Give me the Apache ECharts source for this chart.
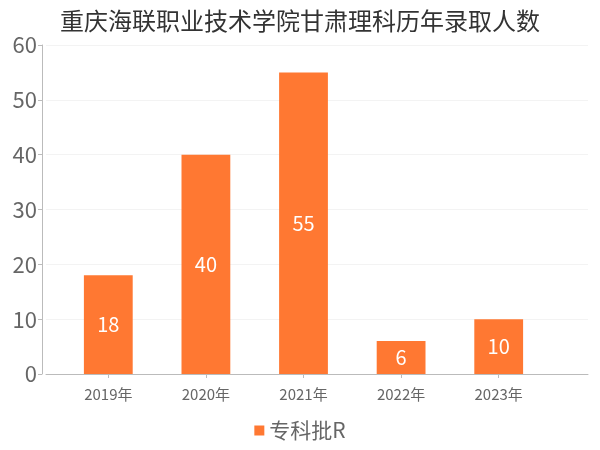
<!DOCTYPE html>
<html><head><meta charset="utf-8">
<script src="https://cdn.jsdelivr.net/npm/echarts@6/dist/echarts.min.js"></script>
<style>html,body{margin:0;padding:0;background:#fff}#c{width:600px;height:450px}</style>
</head><body><div id="c"></div>
<script>
const titleText = '重庆海联职业技术学院甘肃理科历年录取人数';
const categories = ['2019年','2020年','2021年','2022年','2023年'];
const seriesName = '专科批R';
const values = [18, 40, 55, 6, 10];
const yTicks = [0, 10, 20, 30, 40, 50, 60];

const font = '"Noto Sans CJK SC", "Noto Sans", sans-serif';
const chart = echarts.init(document.getElementById('c'));
chart.setOption({
  animation: false,
  title: { text: titleText, left: 'center', top: 4,
    textStyle: { fontFamily: font, fontSize: 24, fontWeight: 'normal', color: '#333' } },
  legend: { bottom: 4, left: 'center', itemWidth: 10, itemHeight: 10, icon: 'rect',
    textStyle: { fontFamily: font, fontSize: 21, color: '#666' }, data: [seriesName] },
  grid: [
    { left: 46, right: 12, top: 45, bottom: 76 },
    { left: 59.5, right: 52.5, top: 45, bottom: 76 }
  ],
  xAxis: [
    { gridIndex: 0, type: 'category', data: categories, offset: 4,
      axisLine: { lineStyle: { color: '#bbb' } }, axisTick: { show: false }, axisLabel: { show: false } },
    { gridIndex: 1, type: 'category', data: categories, offset: 4,
      axisLine: { show: false },
      axisTick: { show: true, alignWithLabel: true, length: 4, lineStyle: { color: '#bbb' } },
      axisLabel: { fontFamily: font, fontSize: 15, color: '#666', margin: 9 } }
  ],
  yAxis: [
    { gridIndex: 0, type: 'value', min: yTicks[0], max: yTicks[yTicks.length - 1], interval: 10, offset: 4,
      axisLine: { show: true, lineStyle: { color: '#bbb' } },
      axisTick: { show: true, length: 4, lineStyle: { color: '#bbb' } },
      axisLabel: { fontFamily: font, fontSize: 22, color: '#666', margin: 5 },
      splitLine: { lineStyle: { color: '#f3f3f3' } } },
    { gridIndex: 1, type: 'value', min: yTicks[0], max: yTicks[yTicks.length - 1], interval: 10, show: false }
  ],
  series: [{
    name: seriesName, type: 'bar', xAxisIndex: 1, yAxisIndex: 1, data: values,
    barWidth: '50%', itemStyle: { color: '#ff7832' },
    label: { show: true, position: 'inside', color: '#fff', fontFamily: font, fontSize: 20 }
  }]
});
</script></body></html>
